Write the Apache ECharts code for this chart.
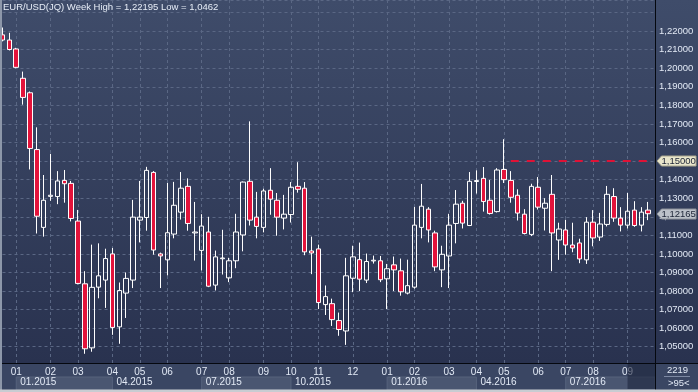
<!DOCTYPE html>
<html><head><meta charset="utf-8">
<script src="https://cdn.jsdelivr.net/npm/echarts@6/dist/echarts.min.js"></script>
<style>html,body{margin:0;padding:0;background:#3a4663;}#c{width:698px;height:392px;}</style>
</head><body><div id="c"></div>
<script>
// Weekly OHLC (EUR/USD JQ), 95 bars
const opens  = [1.2180,1.2152,1.2104,1.1946,1.1868,1.1562,1.1143,1.1310,1.1309,1.1396,
                1.1380,1.1177,1.0839,1.0494,1.0821,1.0859,1.1000,1.0607,1.0789,1.0859,
                1.1182,1.1196,1.1439,1.1000,1.0968,1.1107,1.1225,1.1364,1.1113,1.1019,
                1.1118,1.0832,1.0974,1.0871,1.0963,1.1102,1.1391,1.1198,1.1143,1.1343,
                1.1289,1.1193,1.1212,1.1364,1.1354,1.1016,1.1027,1.0727,1.0732,1.0641,
                1.0585,1.0869,1.0969,1.0859,1.0962,1.0963,1.0866,1.0941,1.0909,1.0789,
                1.0821,1.1143,1.1241,1.1113,1.0914,1.0989,1.1164,1.1273,1.1153,1.1390,
                1.1407,1.1289,1.1228,1.1455,1.1396,1.1316,1.1214,1.1105,1.1359,1.1246,
                1.1321,1.1075,1.1129,1.1048,1.1059,1.0968,1.1171,1.1091,1.1159,1.1309,
                1.1193,1.1155,1.1236,1.1155,1.1236];
const closes = [1.2152,1.2101,1.2005,1.1843,1.1568,1.1203,1.1289,1.1316,1.1393,1.1378,
                1.1191,1.0841,1.0489,1.0820,1.0882,1.0975,1.0604,1.0803,1.0868,1.1198,
                1.1198,1.1450,1.1021,1.0989,1.1114,1.1262,1.1354,1.1164,1.1118,1.1150,
                1.0826,1.0984,1.0978,1.0963,1.1118,1.1387,1.1182,1.1148,1.1339,1.1295,
                1.1198,1.1214,1.1359,1.1348,1.1011,1.1005,1.0738,1.0770,1.0646,1.0593,
                1.0882,1.0984,1.0864,1.0959,1.0966,1.0861,1.0920,1.0914,1.0796,1.0829,
                1.1155,1.1257,1.1129,1.0930,1.0998,1.1155,1.1268,1.1166,1.1391,1.1395,
                1.1282,1.1218,1.1452,1.1400,1.1305,1.1220,1.1110,1.1364,1.1252,1.1273,
                1.1113,1.1134,1.1048,1.1032,1.0973,1.1171,1.1086,1.1161,1.1321,1.1193,
                1.1155,1.1230,1.1153,1.1225,1.12165];
const lows   = [1.2145,1.2096,1.2000,1.1804,1.1455,1.1110,1.1093,1.1286,1.1268,1.1276,
                1.1175,1.0836,1.0462,1.0473,1.0761,1.0709,1.0564,1.0516,1.0655,1.0816,
                1.1062,1.1125,1.0996,1.0816,1.0884,1.1084,1.1185,1.1125,1.0964,1.0911,
                1.0821,1.0803,1.0889,1.0848,1.0923,1.1014,1.1153,1.1084,1.1116,1.1211,
                1.1098,1.1132,1.1169,1.1330,1.0993,1.0891,1.0703,1.0671,1.0612,1.0559,
                1.0510,1.0794,1.0800,1.0843,1.0948,1.0848,1.0703,1.0800,1.0775,1.0782,
                1.0813,1.1084,1.1062,1.0907,1.0821,1.0816,1.1057,1.1137,1.1150,1.1325,
                1.1228,1.1212,1.1223,1.1382,1.1276,1.1180,1.1105,1.1096,1.1239,1.1126,
                1.0907,1.0968,1.0996,1.1009,1.0950,1.0946,1.1041,1.1070,1.1148,1.1173,
                1.1121,1.1137,1.1146,1.1121,1.1182];
const highs  = [1.22195,1.2191,1.2110,1.1982,1.1875,1.1682,1.1425,1.1539,1.1446,1.1452,
                1.1393,1.1237,1.0907,1.1050,1.1057,1.1028,1.1032,1.0846,1.0900,1.1291,
                1.1393,1.1469,1.1446,1.1007,1.1382,1.1388,1.1441,1.1407,1.1280,1.1214,
                1.1200,1.1018,1.1130,1.0979,1.1216,1.1390,1.1714,1.1334,1.1351,1.1462,
                1.1328,1.1318,1.1387,1.1494,1.1387,1.1093,1.1050,1.0830,1.0759,1.0684,
                1.0979,1.1044,1.1061,1.1002,1.0991,1.0989,1.0946,1.0986,1.0975,1.0969,
                1.1253,1.1377,1.1252,1.1125,1.1044,1.1216,1.1344,1.1286,1.1441,1.1450,
                1.1468,1.1398,1.1462,1.1618,1.1446,1.1348,1.1241,1.1378,1.1414,1.1300,
                1.1425,1.1168,1.1184,1.1168,1.1082,1.1198,1.1236,1.1221,1.1366,1.1354,
                1.1252,1.1328,1.1284,1.1252,1.1280];
const monthTickIdx    = [2,7,11,16,20,24,29,33,38,42,46,51,56,60,65,69,73,78,82,86,91];
const monthTickLabels = ['01','02','03','04','05','06','07','08','09','10','11','12',
                         '01','02','03','04','05','06','07','08','09'];
const quarterIdx    = [2,16,29,42,56,69,82];
const quarterLabels = ['01.2015','04.2015','07.2015','10.2015','01.2016','04.2016','07.2016'];
const titleText = 'EUR/USD(JQ) Week High = 1,22195 Low = 1,0462';
const levelPrice = 1.15, levelFromIdx = 74, levelToIdx = 94;
const lastPrice = 1.12165;
const footerTop = '2219', footerBottom = '>95<';

const FONT = "'Liberation Sans', Arial, sans-serif";
const TXT = '#e2e9f5';
const FS = 10, FSY = 9.5;
const cats = [];
for (let i = 0; i < 96; i++) cats.push(String(i));
const monthMap = {}; monthTickIdx.forEach((v, k) => monthMap[v] = monthTickLabels[k]);
const qMap = {}; quarterIdx.forEach((v, k) => qMap[v] = quarterLabels[k]);
const candles = opens.map((o, i) => [o, closes[i], lows[i], highs[i]]);
const fmt = v => v.toFixed(5).replace('.', ',');
const tStyle = {color: TXT, fontSize: FSY, fontWeight: 'normal', fontFamily: FONT};

const chart = echarts.init(document.getElementById('c'), null, {renderer: 'canvas'});
const option = {
  animation: false,
  backgroundColor: '#3a4663',
  title: [
    {text: titleText, left: 3, top: 2, padding: 0,
      textStyle: {color: '#e6ecf6', fontSize: 9.5, fontWeight: 'normal', fontFamily: FONT}},
    {text: footerTop, left: 667, top: 365, padding: 0, textStyle: tStyle, z: 60},
    {text: footerBottom, left: 668, top: 378, padding: 0, textStyle: tStyle, z: 60}
  ],
  grid: {left: 2.5, right: 43, top: -2, bottom: 29},
  xAxis: [{
    type: 'category', data: cats, boundaryGap: false,
    axisLine: {show: false}, axisTick: {show: false},
    axisLabel: {interval: (i) => monthMap[i] !== undefined, formatter: (v, i) => monthMap[i] || '',
      color: TXT, fontSize: FS, fontFamily: FONT, margin: 4},
    splitLine: {show: true, interval: (i) => monthMap[i] !== undefined,
      lineStyle: {color: '#5a6784', width: 1, type: [3, 3]}}
  }, {
    type: 'category', data: cats, boundaryGap: false, position: 'bottom', offset: 12,
    axisLine: {show: false}, axisTick: {show: false}, splitLine: {show: false},
    axisLabel: {interval: (i) => qMap[i] !== undefined, formatter: (v, i) => qMap[i] || '',
      color: TXT, fontSize: FS, fontFamily: FONT, margin: 2, align: 'left', padding: [0, 0, 0, 4]}
  }],
  yAxis: {
    type: 'value', position: 'right', min: 1.04124, max: 1.23677, splitNumber: 19, scale: true,
    axisLine: {show: true, lineStyle: {color: '#05080f', width: 1}}, axisTick: {show: false},
    axisLabel: {color: TXT, fontSize: FSY, fontFamily: FONT, margin: 4,
      formatter: (v) => {
        const r = Math.round(v * 100) / 100;
        if (Math.abs(v - r) > 1e-6 || v > 1.225 || v < 1.045) return '';
        return fmt(r);
      }},
    splitLine: {show: true, lineStyle: {color: '#5a6784', width: 1, type: [3, 3]}}
  },
  series: [{
    type: 'candlestick', data: candles, barWidth: 5, clip: false,
    itemStyle: {color: 'rgba(0,0,0,0)', color0: '#e3133b', borderColor: '#ffffff',
      borderColor0: '#ffffff', borderWidth: 1},
    emphasis: {disabled: true},
    markLine: {
      silent: true, symbol: ['none', 'none'], label: {show: false},
      lineStyle: {color: '#df1236', width: 2, type: [8, 8]},
      data: [[{coord: [levelFromIdx, levelPrice]}, {coord: [levelToIdx, levelPrice]}]]
    }
  }]
};
chart.setOption(option);

const xp = i => chart.convertToPixel({xAxisIndex: 0}, i);
const yp = v => chart.convertToPixel({yAxisIndex: 0}, v);
const g = [];
g.push({type: 'rect', z: -10, shape: {x: 0, y: 0, width: 698, height: 363},
  style: {fill: new echarts.graphic.LinearGradient(0, 0, 0, 1, [
    {offset: 0, color: '#3f4c6a'}, {offset: 1, color: '#29324f'}])}});
quarterIdx.forEach((qi, k) => {
  if (k % 2 !== 0) return;
  const x0 = xp(qi);
  const x1 = k + 1 < quarterIdx.length ? xp(quarterIdx[k + 1]) : 655;
  g.push({type: 'rect', z: -5, shape: {x: x0, y: 377, width: x1 - x0, height: 13},
    style: {fill: '#4a5671', stroke: '#56627d', lineWidth: 1}});
});
g.push({type: 'line', z: 50, shape: {x1: 0, y1: 363.5, x2: 698, y2: 363.5},
  style: {stroke: '#05080f', lineWidth: 1}});
g.push({type: 'line', z: 50, shape: {x1: 655.5, y1: 0, x2: 655.5, y2: 390},
  style: {stroke: '#05080f', lineWidth: 1}});
const ovX = xp(90.6);
g.push({type: 'rect', z: 40, shape: {x: ovX, y: 364, width: 655 - ovX, height: 25},
  style: {fill: 'rgba(28,36,60,0.6)'}});
g.push({type: 'line', z: 60, shape: {x1: 664, y1: 376.5, x2: 690, y2: 376.5}, style: {stroke: '#7d89a3', lineWidth: 1}});
function tag(v, fill, stroke) {
  const y = Math.round(yp(v));
  g.push({type: 'polygon', z: 70, shape: {points: [[657, y], [661.5, y - 5], [696, y - 5], [696, y + 5], [661.5, y + 5]]},
    style: {fill: fill, stroke: stroke, lineWidth: 1}});
  g.push({type: 'text', z: 71, x: 661.5, y: y - 5,
    style: {text: fmt(v), verticalAlign: 'top', fill: '#1c2436', font: FSY + 'px ' + FONT}});
}
tag(levelPrice, '#e8e5cb', '#a9a68e');
tag(lastPrice, '#bcc1c9', '#8d929a');
g.push({type: 'rect', z: 80, shape: {x: 0, y: 0, width: 2, height: 392}, style: {fill: '#8d97a9'}});
g.push({type: 'rect', z: 80, shape: {x: 0, y: 389.5, width: 698, height: 3}, style: {fill: '#c8ccd2'}});
chart.setOption({graphic: {elements: g}});
</script></body></html>
